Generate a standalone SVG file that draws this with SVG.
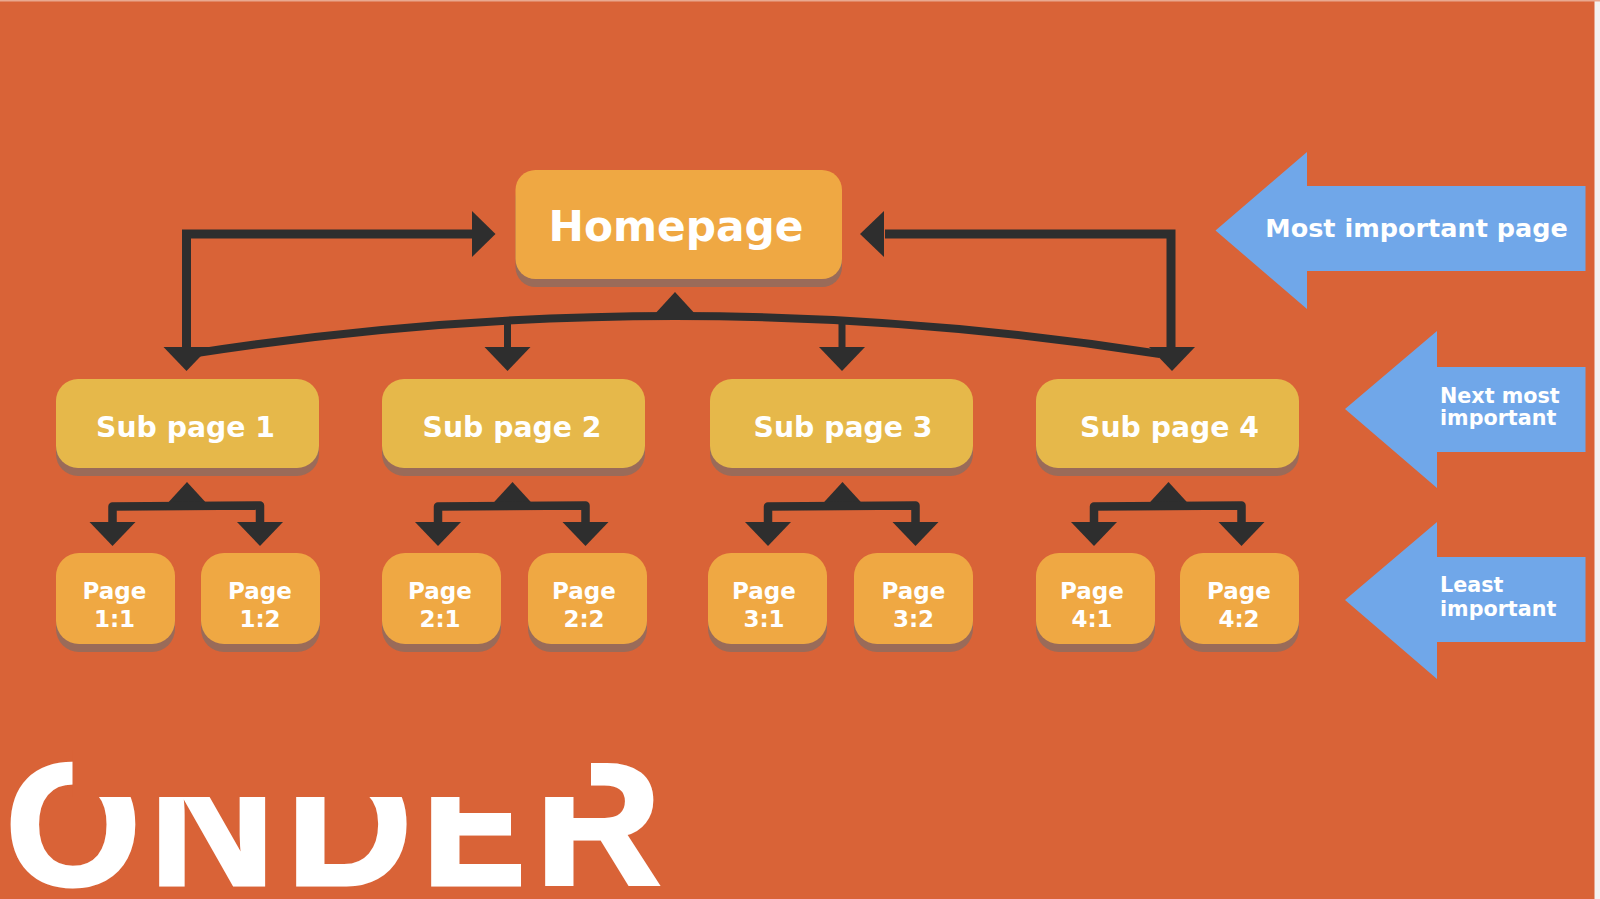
<svg xmlns="http://www.w3.org/2000/svg" width="1600" height="899" viewBox="0 0 1600 899">
<style>
text{font-family:"DejaVu Sans",Verdana,sans-serif;font-weight:700;fill:#fff;text-anchor:middle}
.shadow{fill:#9A6B59}
.home{fill:#EFA843}
.sub{fill:#E6B84A}
.page{fill:#EFA843}
.line{fill:none;stroke:#2E2E2E;stroke-width:9;stroke-linejoin:miter}
.curve{fill:none;stroke:#2E2E2E;stroke-width:8}
.thin{fill:none;stroke:#2E2E2E;stroke-width:7}
.fork{fill:none;stroke:#2E2E2E;stroke-width:8.500;stroke-linejoin:round}
.head{fill:#2E2E2E}
.blue{fill:#70A7E9}
.s{font-size:28.300px}
.p{font-size:23px}
.b{font-size:25.500px}
.c{font-size:20.700px;text-anchor:start}
.cover{fill:#D96337}
</style>
<defs>
<polygon id="down" class="head" points="-23,0 23,0 0,24"/>
<polygon id="up" class="head" points="-22,24 22,24 0,0"/>
<g id="pagebox">
<rect class="shadow" x="0" y="8" width="119" height="91" rx="23"/>
<rect class="page" x="0" y="0" width="119" height="91" rx="23"/>
</g>
<g id="subbox">
<rect class="shadow" x="0" y="8" width="263" height="89" rx="22"/>
<rect class="sub" x="0" y="0" width="263" height="89" rx="22"/>
</g>
<g id="fork">
<use href="#up" x="74.500" y="482"/>
<path class="fork" d="M0 523V506.500L147.500 505.500V523"/>
<use href="#down" x="0" y="522"/>
<use href="#down" x="147.500" y="522"/>
</g>
</defs>
<rect width="1600" height="899" fill="#D96337"/>
<rect x="1594.500" width="5.500" height="899" fill="#F4F2F1"/>
<rect width="1600" height="1.500" fill="#E9A88F"/>

<g id="connectors">
<path class="line" d="M186.500 350V234H475"/>
<polygon class="head" points="472,211 495.500,234 472,257"/>
<path class="line" d="M1171 350V234H885"/>
<polygon class="head" points="884,211 860,234 884,257"/>
<path class="curve" d="M190 354Q675 278 1160 354"/>
<use href="#up" x="675" y="292"/>
<path class="thin" d="M507.500 320V350"/>
<path class="thin" d="M842 318V350"/>
<use href="#down" x="186.500" y="347"/>
<use href="#down" x="507.500" y="347"/>
<use href="#down" x="842" y="347"/>
<use href="#down" x="1172" y="347"/>
<use href="#fork" x="112.500"/>
<use href="#fork" x="438"/>
<use href="#fork" x="768"/>
<use href="#fork" x="1094"/>
</g>

<g id="homepage">
<rect class="shadow" x="515.500" y="178" width="326.500" height="109" rx="20"/>
<rect class="home" x="515.500" y="170" width="326.500" height="109" rx="20"/>
<text x="676" y="241" font-size="42.300">Homepage</text>
</g>

<g id="sub1"><use href="#subbox" x="56" y="379"/><text class="s" x="185.500" y="437">Sub page 1</text></g>
<g id="sub2"><use href="#subbox" x="382" y="379"/><text class="s" x="512" y="437">Sub page 2</text></g>
<g id="sub3"><use href="#subbox" x="710" y="379"/><text class="s" x="843" y="437">Sub page 3</text></g>
<g id="sub4"><use href="#subbox" x="1036" y="379"/><text class="s" x="1169.500" y="437">Sub page 4</text></g>

<g id="page11"><use href="#pagebox" x="56" y="553"/><text class="p" x="114.500" y="599">Page</text><text class="p" x="114.500" y="627">1:1</text></g>
<g id="page12"><use href="#pagebox" x="201" y="553"/><text class="p" x="260" y="599">Page</text><text class="p" x="260" y="627">1:2</text></g>
<g id="page21"><use href="#pagebox" x="382" y="553"/><text class="p" x="440" y="599">Page</text><text class="p" x="440" y="627">2:1</text></g>
<g id="page22"><use href="#pagebox" x="528" y="553"/><text class="p" x="584" y="599">Page</text><text class="p" x="584" y="627">2:2</text></g>
<g id="page31"><use href="#pagebox" x="708" y="553"/><text class="p" x="764" y="599">Page</text><text class="p" x="764" y="627">3:1</text></g>
<g id="page32"><use href="#pagebox" x="854" y="553"/><text class="p" x="913.500" y="599">Page</text><text class="p" x="913.500" y="627">3:2</text></g>
<g id="page41"><use href="#pagebox" x="1036" y="553"/><text class="p" x="1092" y="599">Page</text><text class="p" x="1092" y="627">4:1</text></g>
<g id="page42"><use href="#pagebox" x="1180" y="553"/><text class="p" x="1239" y="599">Page</text><text class="p" x="1239" y="627">4:2</text></g>

<g id="label-most">
<polygon class="blue" points="1215.500,230.500 1307,152 1307,186 1585.500,186 1585.500,271 1307,271 1307,309"/>
<text class="b" x="1416.500" y="237">Most important page</text>
</g>
<g id="label-next">
<polygon class="blue" points="1345,409 1437,331 1437,367 1585.500,367 1585.500,452 1437,452 1437,488"/>
<text class="c" x="1440" y="403">Next most</text>
<text class="c" x="1440" y="425">important</text>
</g>
<g id="label-least">
<polygon class="blue" points="1345,600 1437,522 1437,557 1585.500,557 1585.500,642 1437,642 1437,679"/>
<text class="c" x="1440" y="592">Least</text>
<text class="c" x="1440" y="616">important</text>
</g>

<g id="logo">
<text x="5 149 286 421 535" y="885" font-size="175" stroke="#fff" stroke-width="3" style="font-family:'Liberation Sans',Arial,sans-serif;text-anchor:start">ONDER</text>
<rect class="cover" x="72.500" y="750" width="518.500" height="47"/>
<rect class="cover" x="511" y="800" width="26" height="37"/>
<rect class="cover" x="521" y="837" width="16" height="53"/>
</g>
</svg>
